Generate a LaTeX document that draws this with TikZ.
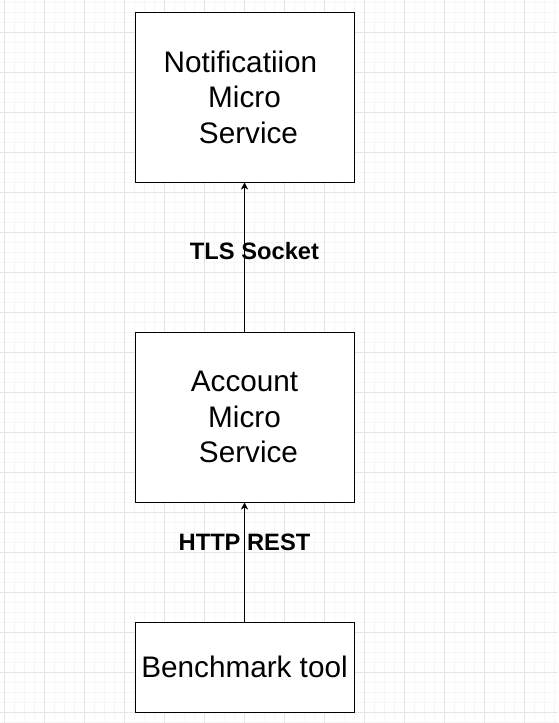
\documentclass[tikz,border=0pt]{standalone}
\usepackage{fontspec}
\setmainfont{Liberation Sans}
\usepackage{xcolor}
\usepackage{tikz}
\usetikzlibrary{positioning,calc}
\usetikzlibrary{arrows.meta}

\definecolor{gridminor}{HTML}{F6F6F6}
\definecolor{gridmajor}{HTML}{E5E5E5}

\begin{document}
\begin{tikzpicture}[x=1pt, y=-1pt,
	service/.style={draw, line width=1pt, minimum width=219pt, minimum height=170pt, align=center, font=\fontsize{29.7}{35.6}\selectfont},
	link/.style={-{Stealth[length=7pt, width=7pt, inset=2pt]}, line width=1pt},
	linklabel/.style={font=\fontsize{23.7}{28}\selectfont\bfseries}]
	\useasboundingbox (0,0) rectangle (558,723);
	\fill[white] (0,0) rectangle (558,723);
	% background grid
	\foreach \x in {4,14,...,558} \draw[gridminor, line width=1pt] (\x,0) -- (\x,723);
	\foreach \y in {2,12,...,723} \draw[gridminor, line width=1pt] (0,\y) -- (558,\y);
	\foreach \x in {4,44,...,558} \draw[gridmajor, line width=1pt] (\x,0) -- (\x,723);
	\foreach \y in {32,72,...,723} \draw[gridmajor, line width=1pt] (0,\y) -- (558,\y);

	\node[service, fill=white] (notif) at (244.5,97) {Notificatiion\kern8pt\\Micro\\\kern8pt Service};
	\node[service, fill=white, below = 149pt of notif] (account) {Account\\Micro\\\kern8pt Service};
	\node[service, fill=white, minimum height=90pt, below = 119pt of account] (bench) {Benchmark tool};

	\path [link] (account.north) edge node [linklabel, pos=0.54, xshift=10pt] {TLS Socket} (notif.south);
	\path [link] (bench.north) edge node [linklabel, pos=0.667] {HTTP REST} (account.south);

\end{tikzpicture}
\end{document}
